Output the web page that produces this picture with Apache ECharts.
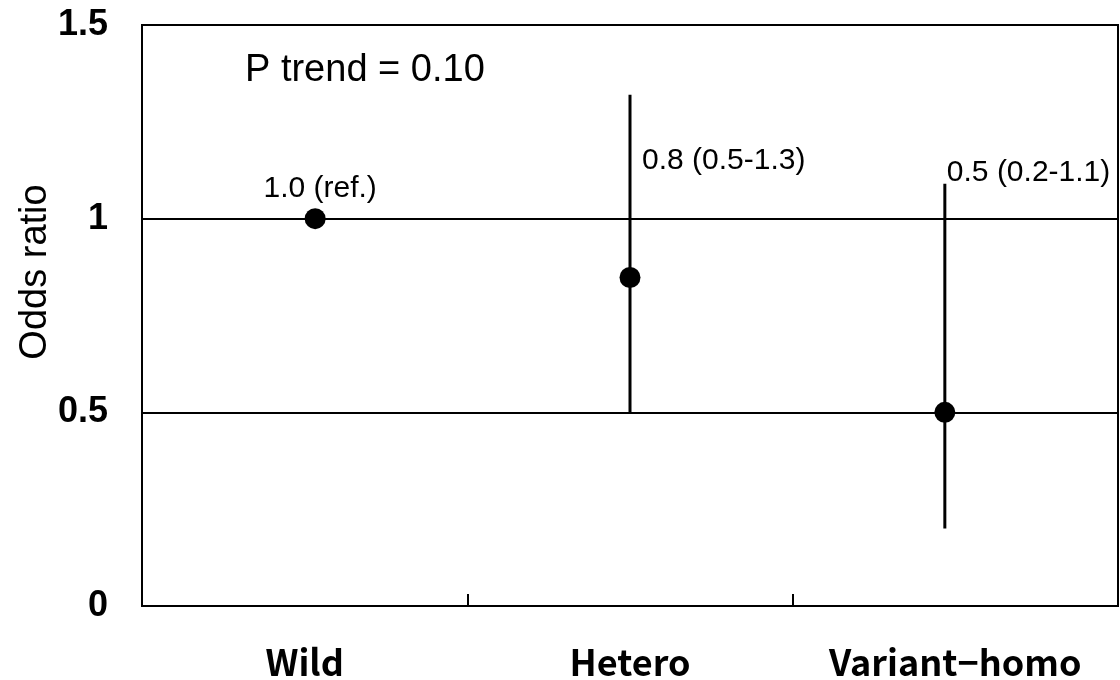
<!DOCTYPE html>
<html>
<head>
<meta charset="utf-8">
<title>Odds ratio by genotype</title>
<script src="https://cdn.jsdelivr.net/npm/echarts@6/dist/echarts.min.js"></script>
<style>
  html, body { margin: 0; padding: 0; background: #fff; }
  #chart { width: 1120px; height: 680px; }
</style>
</head>
<body>
<div id="chart"></div>
<script>
// Genotype groups and their odds ratios with 95% confidence intervals
const categories = ['Wild', 'Hetero', 'Variant\u2212homo'];
const groupPos = [1, 2, 3];
const oddsRatio = [1.0, 0.848, 0.5];
const ciLow = [null, 0.5, 0.2];
const ciHigh = [null, 1.32, 1.09];
const yTicks = [0, 0.5, 1, 1.5];
const trendText = 'P trend = 0.10';

function fmt(v) { return v.toFixed(1); }
const pointLabels = oddsRatio.map((v, i) =>
  ciLow[i] == null ? fmt(v) + ' (ref.)' : fmt(v) + ' (' + fmt(ciLow[i]) + '-' + fmt(ciHigh[i]) + ')'
);

const labelStyles = [
  { align: 'center', offset: [5, -30] },
  { align: 'left', offset: [12, -117] },
  { align: 'left', offset: [2, -240] }
];

const points = oddsRatio.map((v, i) => ({
  value: [groupPos[i], v],
  label: {
    show: true,
    position: 'inside',
    formatter: pointLabels[i],
    align: labelStyles[i].align,
    verticalAlign: 'middle',
    offset: labelStyles[i].offset,
    color: '#000',
    opacity: 1,
    fontFamily: 'Liberation Sans, Arial, sans-serif',
    fontSize: 30
  }
}));

const bars = groupPos.map((x, i) => [x, ciLow[i], ciHigh[i]]).filter(d => d[1] != null);

const chart = echarts.init(document.getElementById('chart'), null, { renderer: 'canvas' });
chart.setOption({
  animation: false,
  backgroundColor: '#fff',
  grid: {
    left: 142, right: 2, top: 25, bottom: 74,
    show: true, borderColor: '#000', borderWidth: 2, backgroundColor: 'transparent'
  },
  xAxis: [
    {
      type: 'category',
      data: categories,
      boundaryGap: true,
      axisLine: { show: true, lineStyle: { color: '#000', width: 2 } },
      axisTick: { show: true, inside: true, interval: 0, length: 12, lineStyle: { color: '#000', width: 2 } },
      axisLabel: {
        interval: 0, hideOverlap: false,
        color: '#000', fontSize: 36, fontWeight: 'bold',
        fontFamily: 'Noto Sans CJK JP, sans-serif', margin: 38
      },
      splitLine: { show: false }
    },
    {
      type: 'value',
      min: 0.45, max: 3.55,
      show: false
    }
  ],
  yAxis: {
    type: 'value',
    min: yTicks[0], max: yTicks[yTicks.length - 1], interval: 0.5,
    axisLine: { show: true, lineStyle: { color: '#000', width: 2 } },
    axisTick: { show: false },
    axisLabel: {
      color: '#000', fontSize: 36, fontWeight: 'bold',
      fontFamily: 'Liberation Sans, Arial, sans-serif', margin: 34,
      formatter: v => String(v)
    },
    splitLine: { show: true, lineStyle: { color: '#000', width: 2 } }
  },
  graphic: [
    {
      type: 'text',
      left: 245, top: 52,
      style: {
        text: trendText, fill: '#000',
        font: '38px "Liberation Sans", Arial, sans-serif'
      }
    },
    {
      type: 'text',
      x: 36, y: 272,
      rotation: Math.PI / 2,
      style: {
        text: 'Odds ratio', fill: '#000',
        font: '38px "Liberation Sans", Arial, sans-serif',
        align: 'center', verticalAlign: 'middle'
      }
    }
  ],
  series: [
    {
      type: 'custom',
      xAxisIndex: 1,
      data: bars,
      renderItem: function (params, api) {
        const top = api.coord([api.value(0), api.value(2)]);
        const bottom = api.coord([api.value(0), api.value(1)]);
        return {
          type: 'line',
          shape: { x1: top[0], y1: top[1], x2: bottom[0], y2: bottom[1] },
          style: { stroke: '#000', lineWidth: 3 }
        };
      },
      z: 3
    },
    {
      type: 'scatter',
      xAxisIndex: 1,
      data: points,
      symbol: 'circle',
      symbolSize: 21,
      itemStyle: { color: '#000', opacity: 1 },
      emphasis: { disabled: true },
      z: 4
    }
  ]
});
</script>
</body>
</html>
